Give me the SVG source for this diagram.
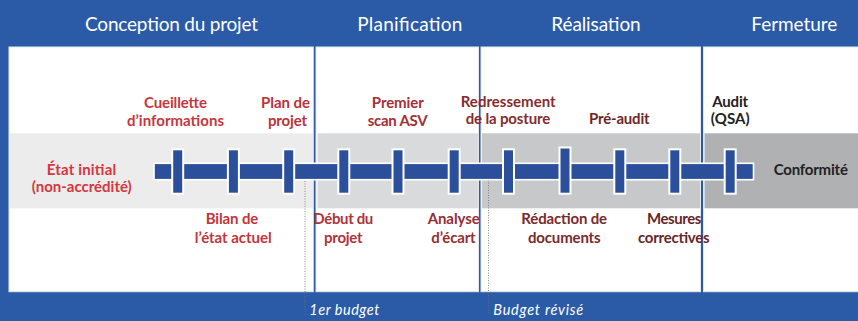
<svg xmlns="http://www.w3.org/2000/svg" width="858" height="321" viewBox="0 0 858 321">
<style>
.hdr{font-family:Lato,"Liberation Sans",sans-serif;font-size:19px;fill:#fff;text-anchor:middle}
.lbl{font-family:Lato,"Liberation Sans",sans-serif;font-size:15px;font-weight:bold;text-anchor:middle}
.bud{font-family:Lato,"Liberation Sans",sans-serif;font-size:14.5px;font-style:italic;fill:#fff}
.panel{fill:#fff;stroke:#E4E7EC;stroke-width:1}
.tick{fill:#2C4F9B;stroke:#fff;stroke-width:2}
.dot{stroke:#6E6E6E;stroke-width:0.8;stroke-dasharray:1 1.5;fill:none}
</style>
<rect x="0" y="0" width="858" height="321" fill="#2B5BA7"/>
<g id="phase-conception">
<rect class="panel" x="9" y="47" width="304.3" height="244.7"/>
<rect x="9.5" y="133.3" width="303.3" height="75" fill="#ECECEC"/>
<text class="hdr" x="171.5" y="30.5" textLength="173">Conception du projet</text>
</g>
<g id="phase-planification">
<rect class="panel" x="316" y="47" width="162.5" height="244.7"/>
<rect x="317.5" y="133.3" width="160.5" height="75" fill="#D9DADB"/>
<text class="hdr" x="409.8" y="30.5" textLength="105">Planification</text>
</g>
<g id="phase-realisation">
<rect class="panel" x="481" y="47" width="219.5" height="244.7"/>
<rect x="482" y="133.3" width="218" height="75" fill="#C7C8CA"/>
<text class="hdr" x="596" y="30.5" textLength="89.4">Réalisation</text>
</g>
<g id="phase-fermeture">
<rect class="panel" x="703.5" y="47" width="160" height="244.7"/>
<rect x="704.5" y="133.3" width="160" height="75" fill="#B0B1B3"/>
<text class="hdr" x="794.3" y="30.5" textLength="86">Fermeture</text>
</g>
<g id="connectors">
<line class="dot" x1="305" y1="181" x2="305" y2="315"/>
<line class="dot" x1="488.5" y1="180" x2="488.5" y2="315"/>
<rect x="154" y="163.3" width="599.5" height="16.4" fill="#2C4F9B" stroke="#fff" stroke-width="1.6"/>
</g>
<g id="ticks">
<rect class="tick" x="172.2" y="149.3" width="11" height="44.4"/>
<rect class="tick" x="227.9" y="149.3" width="11" height="44.4"/>
<rect class="tick" x="283.2" y="149.3" width="11" height="44.4"/>
<rect class="tick" x="338.3" y="149.3" width="11" height="44.4"/>
<rect class="tick" x="392.5" y="149.3" width="11" height="44.4"/>
<rect class="tick" x="448.7" y="149.3" width="11" height="44.4"/>
<rect class="tick" x="503" y="149.3" width="11" height="44.4"/>
<rect class="tick" x="559.5" y="147.5" width="11" height="46.2"/>
<rect class="tick" x="614.3" y="149.3" width="11" height="44.4"/>
<rect class="tick" x="669.3" y="149.3" width="11" height="44.4"/>
<rect class="tick" x="724.7" y="149.3" width="11" height="44.4"/>
</g>
<g id="etat-initial">
<text class="lbl" fill="#D5363E" x="81.5" y="175" textLength="69.3">État initial</text>
<text class="lbl" fill="#D5363E" x="81.7" y="192" textLength="100">(non-accrédité)</text>
</g>
<g id="cueillette">
<text class="lbl" fill="#C6363C" x="175.5" y="108.3" textLength="63">Cueillette</text>
<text class="lbl" fill="#C6363C" x="175.5" y="126" textLength="97">d’informations</text>
</g>
<g id="bilan">
<text class="lbl" fill="#C2353B" x="232" y="224.3" textLength="52.6">Bilan de</text>
<text class="lbl" fill="#C2353B" x="233.2" y="242.5" textLength="77">l’état actuel</text>
</g>
<g id="plan-projet">
<text class="lbl" fill="#B9333A" x="285.5" y="108.3" textLength="49">Plan de</text>
<text class="lbl" fill="#B9333A" x="287.5" y="126" textLength="39">projet</text>
</g>
<g id="debut-projet">
<text class="lbl" fill="#B03238" x="343.3" y="224.3" textLength="60">Début du</text>
<text class="lbl" fill="#B03238" x="343.3" y="242.5" textLength="38.7">projet</text>
</g>
<g id="premier-scan">
<text class="lbl" fill="#A33036" x="397.8" y="108.3" textLength="52">Premier</text>
<text class="lbl" fill="#A33036" x="397.7" y="126" textLength="60">scan ASV</text>
</g>
<g id="analyse-ecart">
<text class="lbl" fill="#952E32" x="453.7" y="224.3" textLength="52">Analyse</text>
<text class="lbl" fill="#952E32" x="453.5" y="242.5" textLength="44.4">d’écart</text>
</g>
<g id="redressement">
<text class="lbl" fill="#842C2E" x="508.2" y="106.7" textLength="95">Redressement</text>
<text class="lbl" fill="#842C2E" x="508" y="124.3" textLength="84.6">de la posture</text>
</g>
<g id="redaction">
<text class="lbl" fill="#7A2A2C" x="564.2" y="224.3" textLength="85.7">Rédaction de</text>
<text class="lbl" fill="#7A2A2C" x="564.3" y="242.5" textLength="72.7">documents</text>
</g>
<g id="pre-audit">
<text class="lbl" fill="#6E2628" x="619.3" y="124.3" textLength="60.7">Pré-audit</text>
</g>
<g id="mesures">
<text class="lbl" fill="#652727" x="674.2" y="224.3" textLength="54.3">Mesures</text>
<text class="lbl" fill="#652727" x="673.8" y="242.5" textLength="71.7">correctives</text>
</g>
<g id="audit">
<text class="lbl" fill="#222" x="730.2" y="106.7" textLength="35.7">Audit</text>
<text class="lbl" fill="#222" x="730.2" y="124.3" textLength="39">(QSA)</text>
</g>
<g id="conformite">
<text class="lbl" fill="#222" x="810.8" y="175" textLength="74.3">Conformité</text>
</g>
<g id="budgets">
<text class="bud" x="309.3" y="315" textLength="70">1er budget</text>
<text class="bud" x="493.3" y="315" textLength="90">Budget révisé</text>
</g>
</svg>
